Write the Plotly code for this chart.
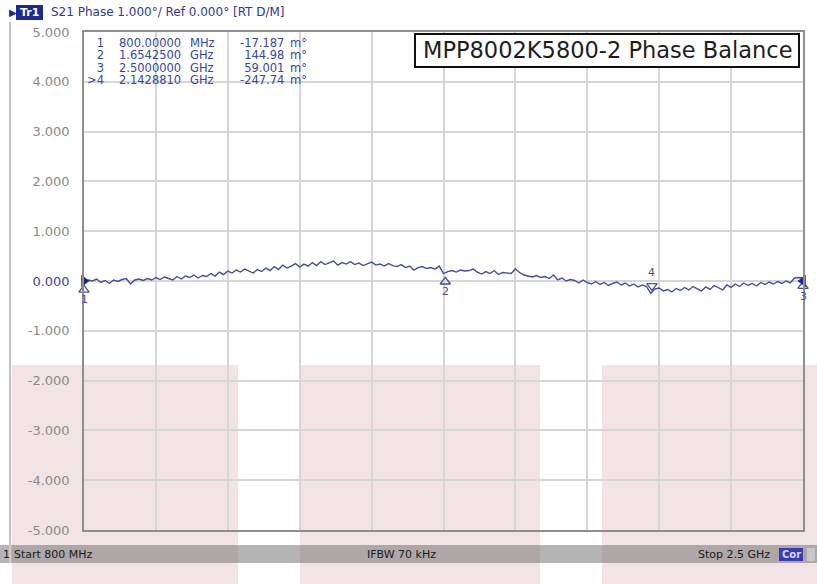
import plotly.graph_objects as go

# ---------------- data ----------------
freq_ghz = [round(0.80 + 0.01 * i, 2) for i in range(171)]
phase_deg = [
    -0.017, 0.02, 0.00, 0.04, -0.03, 0.01, -0.05, 0.02, -0.01, 0.03,
    0.05, -0.06, 0.02, 0.04, 0.01, 0.05, 0.02, 0.07, 0.03, 0.08,
    0.05, 0.02, 0.09, 0.04, 0.10, 0.07, 0.12, 0.06, 0.11, 0.09,
    0.15, 0.10, 0.18, 0.13, 0.20, 0.16, 0.22, 0.18, 0.24, 0.20,
    0.16, 0.23, 0.19, 0.26, 0.21, 0.29, 0.23, 0.32, 0.26, 0.30,
    0.35, 0.28, 0.34, 0.30, 0.37, 0.31, 0.39, 0.33, 0.36, 0.40,
    0.32, 0.37, 0.34, 0.39, 0.33, 0.36, 0.31, 0.35, 0.38, 0.32,
    0.34, 0.30, 0.35, 0.31, 0.29, 0.33, 0.27, 0.30, 0.22, 0.27,
    0.29, 0.25, 0.27, 0.24, 0.30, 0.15, 0.19, 0.21, 0.18, 0.22,
    0.20, 0.21, 0.24, 0.18, 0.14, 0.19, 0.15, 0.21, 0.13, 0.17,
    0.16, 0.15, 0.24, 0.17, 0.12, 0.10, 0.08, 0.11, 0.07, 0.09,
    0.05, 0.12, 0.02, 0.06, 0.00, 0.03, 0.01, -0.04, 0.02, -0.03,
    -0.06, -0.01, -0.07, -0.03, -0.09, -0.05, -0.02, -0.08, -0.04, -0.10,
    -0.06, -0.12, -0.08, -0.11, -0.25, -0.16, -0.14, -0.20, -0.17, -0.22,
    -0.15, -0.19, -0.13, -0.18, -0.11, -0.16, -0.20, -0.12, -0.17, -0.09,
    -0.14, -0.18, -0.08, -0.13, -0.06, -0.11, -0.04, -0.09, -0.05, -0.10,
    -0.03, -0.07, -0.02, -0.06, -0.01, -0.05, 0.00, -0.04, 0.06, 0.07,
    0.059,
]

marker_ids = ["1", "2", "3", "4"]
marker_freq = [0.8, 1.65425, 2.5, 2.142881]
marker_val = [-0.017187, 0.14498, 0.059001, -0.24774]
marker_active = [False, False, False, True]

table_num = ["1", "2", "3", ">4"]
table_freq = ["800.00000", "1.6542500", "2.5000000", "2.1428810"]
table_unit = ["MHz", "GHz", "GHz", "GHz"]
table_val = ["-17.187", "144.98", "59.001", "-247.74"]

y_ticks = [5, 4, 3, 2, 1, 0, -1, -2, -3, -4, -5]
header_text = "S21 Phase 1.000°/ Ref 0.000° [RT D/M]"
title_text = "MPP8002K5800-2 Phase Balance"
start_label = "Start 800 MHz"
ifbw_label = "IFBW 70 kHz"
stop_label = "Stop 2.5 GHz"

# ---------------- layout helpers ----------------
W, H = 817, 584
ML, MR, MT, MB = 84, 14, 32, 54
PW, PH = W - ML - MR, H - MT - MB


def px(x):
    return (x - ML) / PW


def py(y):
    return (H - MB - y) / PH


FONT = "DejaVu Sans"
NAVY = "#1f2a8e"
TRACE = "#4a4c9c"
TXT_BLUE = "#3a47a0"
GRID = "#d6d6d6"

fig = go.Figure()

fig.add_trace(go.Scatter(
    x=freq_ghz, y=phase_deg, mode="lines",
    line=dict(color=TRACE, width=1.4), hoverinfo="skip", showlegend=False,
))

# marker triangles on the trace
for mid, f, v, act in zip(marker_ids, marker_freq, marker_val, marker_active):
    if act:
        fig.add_trace(go.Scatter(
            x=[f], y=[v + 0.15], mode="markers",
            marker=dict(symbol="triangle-down-open", size=9, color=TRACE, line=dict(width=1.3)),
            cliponaxis=False, showlegend=False, hoverinfo="skip"))
        fig.add_annotation(x=f, y=v, text=mid, showarrow=False, yshift=21,
                           font=dict(family=FONT, size=11, color=TRACE))
    else:
        fig.add_trace(go.Scatter(
            x=[f], y=[v - 0.16], mode="markers",
            marker=dict(symbol="triangle-up-open", size=9, color=TRACE, line=dict(width=1.3)),
            cliponaxis=False, showlegend=False, hoverinfo="skip"))
        fig.add_annotation(x=f, y=v, text=mid, showarrow=False, yshift=-18,
                           font=dict(family=FONT, size=11, color=TRACE))

# marker indicators under the x axis
for f, act in zip(marker_freq, marker_active):
    fig.add_trace(go.Scatter(
        x=[f], y=[-5.13], mode="markers",
        marker=dict(symbol="triangle-up", size=12,
                    color="#1a1a8a" if act else "white",
                    line=dict(width=1.4, color="#1a1a8a" if act else "#7a6cc8")),
        cliponaxis=False, showlegend=False, hoverinfo="skip"))

# reference level arrows
fig.add_trace(go.Scatter(
    x=[0.8, 2.5], y=[0, 0], mode="markers",
    marker=dict(symbol=["triangle-right", "triangle-left"], size=11, color=NAVY),
    cliponaxis=False, showlegend=False, hoverinfo="skip"))

ticktext = []
for v in y_ticks:
    s = f"{v:.3f}"
    if v == 0:
        s = f"<span style='color:{TXT_BLUE}'>{s}</span>"
    ticktext.append(s)

fig.update_layout(
    width=W, height=H,
    margin=dict(l=ML, r=MR, t=MT, b=MB),
    paper_bgcolor="white", plot_bgcolor="rgba(0,0,0,0)",
    showlegend=False,
    xaxis=dict(range=[0.8, 2.5], tick0=0.8, dtick=0.17, showticklabels=False,
               showgrid=True, gridcolor=GRID, gridwidth=1.5, zeroline=False,
               showline=True, linecolor="#8e8e8e", linewidth=1.5, mirror=True,
               fixedrange=True),
    yaxis=dict(range=[-5, 5], tickvals=y_ticks, ticktext=ticktext,
               showgrid=True, gridcolor=GRID, gridwidth=1.5, zeroline=False,
               showline=True, linecolor="#8e8e8e", linewidth=1.5, mirror=True,
               tickfont=dict(family=FONT, size=13, color="#8a8a8a"),
               ticklabelstandoff=10, fixedrange=True),
)

shapes = []
# faint pink blocks
for x0, x1 in [(12, 238), (300, 540), (602, 817)]:
    shapes.append(dict(type="rect", xref="paper", yref="paper", layer="below",
                       x0=px(x0), x1=px(x1), y0=py(584), y1=py(365),
                       fillcolor="#f2e4e4", line=dict(width=0)))
# status bar
shapes.append(dict(type="rect", xref="paper", yref="paper", layer="above",
                   x0=px(0), x1=px(817), y0=py(563), y1=py(545),
                   fillcolor="rgba(105,105,105,0.5)", line=dict(width=0)))
shapes.append(dict(type="line", xref="paper", yref="paper", layer="above",
                   x0=px(10), x1=px(10), y0=py(563), y1=py(545),
                   line=dict(color="#e8e8e8", width=1)))
# left frame line
shapes.append(dict(type="line", xref="paper", yref="paper", layer="above",
                   x0=px(10), x1=px(10), y0=py(545), y1=py(22),
                   line=dict(color="#9a9a9a", width=1.2)))
# title box
shapes.append(dict(type="rect", xref="paper", yref="paper", layer="above",
                   x0=px(415), x1=px(799), y0=py(67), y1=py(34),
                   fillcolor="white", line=dict(color="#111111", width=2)))
# Tr1 badge
shapes.append(dict(type="rect", xref="paper", yref="paper", layer="above",
                   x0=px(16), x1=px(43), y0=py(20), y1=py(5),
                   fillcolor=NAVY, line=dict(width=0)))
# Cor badge
shapes.append(dict(type="rect", xref="paper", yref="paper", layer="above",
                   x0=px(779), x1=px(803), y0=py(561), y1=py(548),
                   fillcolor="#3a3ab4", line=dict(width=0)))
shapes.append(dict(type="rect", xref="paper", yref="paper", layer="above",
                   x0=px(807), x1=px(815), y0=py(561), y1=py(548),
                   fillcolor="#c8c8c8", line=dict(width=0)))
fig.update_layout(shapes=shapes)


def txt(x, y, s, size=12, color="#222", anchor="left", family=FONT, bold=False, yanchor="middle"):
    fig.add_annotation(xref="paper", yref="paper", x=px(x), y=py(y), text=(f"<b>{s}</b>" if bold else s),
                       showarrow=False, xanchor=anchor, yanchor=yanchor, borderpad=0,
                       align=anchor if anchor in ("left", "right") else "center",
                       font=dict(family=family, size=size, color=color))


# header
fig.add_annotation(xref="paper", yref="paper", x=px(13), y=py(12.5), text="▶",
                   showarrow=False, xanchor="center", yanchor="middle",
                   font=dict(family=FONT, size=10, color=NAVY))
txt(29.5, 12.5, "Tr1", size=11, color="white", anchor="center", bold=True)
txt(50, 12.5, header_text, size=12, color="#2e3a8c")


# marker table: one multi-line annotation per column, tight line spacing
def column(items, x, anchor):
    body = "<br>".join(f"<span style='font-size:11.5px'>{s}</span>" for s in items)
    txt(x, 61.2, body, size=9.6, color=TXT_BLUE, anchor=anchor)


column(table_num, 105, "right")
column(table_freq, 118, "left")
column(table_unit, 189, "left")
column(table_val, 285, "right")
column(["m°"] * 4, 289, "left")

# title
txt(607, 50, title_text, size=22.5, color="#1e1e1e", anchor="center")

# status bar
txt(2, 554, "1", size=11, color="#1a1a1a")
txt(13, 554, start_label, size=11, color="#1a1a1a")
txt(366, 554, ifbw_label, size=11, color="#1a1a1a")
txt(771, 554, stop_label, size=11, color="#1a1a1a", anchor="right")
txt(791, 554.5, "Cor", size=10, color="#d8d8ff", anchor="center", bold=True)

fig.write_html("out.html", config={"displayModeBar": False},
               post_script="document.body.style.margin='0';")
